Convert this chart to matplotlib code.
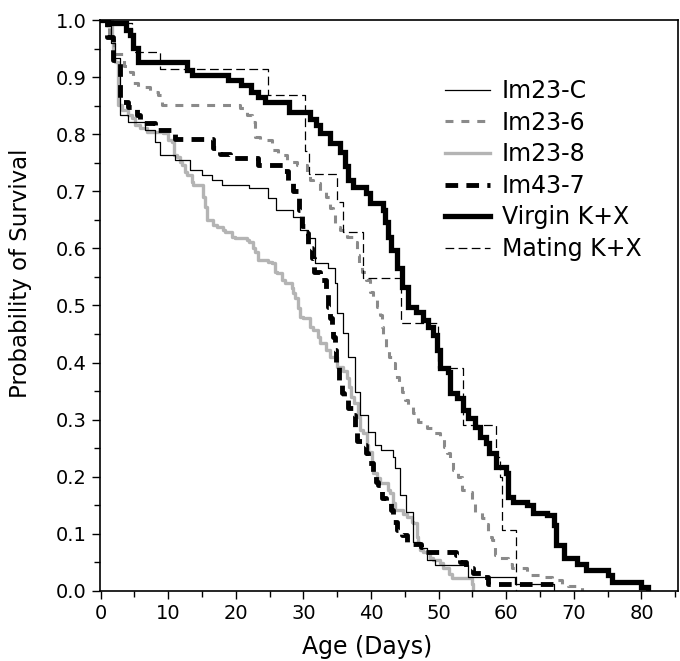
import matplotlib
matplotlib.use('Agg')
from matplotlib import pyplot as plt
from matplotlib.ticker import MultipleLocator, FormatStrFormatter

plt.rcParams['font.family'] = ['DejaVu Sans']

# Kaplan-Meier steps: day of drop, survival after the drop
im23c_t = [0, 0.8, 1.5, 2.1, 2.8, 4.0, 6.6, 8.0, 8.8, 11.0, 13.2, 15.0, 16.4, 18.0, 22.0, 24.7,
           26.0, 28.5, 29.5, 30.7, 31.7, 33.6, 34.6, 34.9, 35.9, 36.6, 37.6, 38.3, 39.5, 40.6,
           41.5, 43.2, 43.5, 44.3, 45.2, 46.2, 47.2, 48.2, 49.4, 54.3, 61.3, 67.0]
im23c_s = [1.0, 0.99, 0.96, 0.933, 0.834, 0.822, 0.807, 0.787, 0.764, 0.755, 0.737, 0.729, 0.72,
           0.711, 0.706, 0.688, 0.667, 0.655, 0.632, 0.618, 0.574, 0.565, 0.539, 0.487, 0.452,
           0.41, 0.349, 0.308, 0.279, 0.256, 0.247, 0.235, 0.215, 0.168, 0.139, 0.086, 0.075,
           0.054, 0.045, 0.025, 0.012, 0.0]

im23_6_t = [0, 1.2, 2.0, 3.5, 4.3, 4.8, 5.5, 7.3, 8.5, 9.1, 20.6, 21.6, 22.4, 22.8, 23.6, 25.3,
            26.2, 27.5, 29.0, 30.5, 31.0, 31.4, 32.4, 33.4, 33.9, 34.4, 34.7, 35.4, 36.5, 37.3,
            37.9, 38.2, 38.6, 39.3, 39.8, 40.3, 40.9, 41.3, 41.6, 41.8, 42.2, 42.6, 43.2, 43.6,
            44.2, 44.6, 45.0, 45.5, 46.2, 47.0, 48.2, 49.2, 50.2, 50.8, 51.2, 51.7, 52.1, 52.8,
            53.4, 54.1, 55.0, 55.3, 56.4, 56.8, 57.3, 57.9, 58.3, 58.8, 60.2, 60.8, 63.0, 63.5,
            65.7, 66.7, 68.2, 69.1, 71.2]
im23_6_s = [1.0, 0.97, 0.94, 0.92, 0.909, 0.89, 0.883, 0.874, 0.868, 0.851, 0.846, 0.834, 0.822,
            0.795, 0.79, 0.772, 0.764, 0.751, 0.746, 0.73, 0.72, 0.715, 0.70, 0.69, 0.67, 0.662,
            0.638, 0.632, 0.62, 0.611, 0.588, 0.571, 0.559, 0.545, 0.524, 0.515, 0.497, 0.483,
            0.462, 0.448, 0.427, 0.41, 0.40, 0.375, 0.364, 0.349, 0.335, 0.322, 0.312, 0.296,
            0.285, 0.276, 0.268, 0.253, 0.241, 0.226, 0.212, 0.2, 0.177, 0.174, 0.159, 0.139,
            0.127, 0.118, 0.095, 0.089, 0.063, 0.057, 0.048, 0.04, 0.034, 0.028, 0.025, 0.019,
            0.011, 0.008, 0.0]

im23_8_t = [0, 1.7, 1.8, 2.1, 2.6, 3.2, 4.0, 4.6, 5.1, 5.8, 6.8, 9.2, 10.0, 10.5, 10.8, 11.3,
            11.7, 12.0, 12.5, 12.7, 13.5, 13.7, 15.1, 15.4, 15.7, 16.6, 17.2, 18.1, 18.4, 19.4,
            19.9, 21.6, 22.0, 22.5, 22.8, 23.3, 24.7, 25.3, 25.8, 26.1, 26.8, 27.2, 28.3, 28.5,
            28.7, 29.2, 29.5, 29.9, 31.0, 31.4, 32.1, 32.5, 33.4, 33.9, 34.9, 35.9, 36.4, 36.8,
            37.1, 37.5, 38.0, 38.3, 38.8, 39.4, 39.5, 40.1, 40.3, 40.9, 41.3, 42.5, 42.8, 43.2,
            43.5, 44.7, 45.3, 46.0, 46.2, 46.8, 47.0, 47.2, 47.7, 48.7, 49.2, 50.2, 50.7, 51.5,
            52.0, 54.9, 55.1]
im23_8_s = [1.0, 0.965, 0.93, 0.926, 0.851, 0.842, 0.834, 0.828, 0.816, 0.811, 0.804, 0.802, 0.79,
            0.786, 0.764, 0.76, 0.751, 0.746, 0.734, 0.729, 0.716, 0.711, 0.69, 0.672, 0.65,
            0.641, 0.638, 0.632, 0.629, 0.62, 0.618, 0.615, 0.611, 0.6, 0.594, 0.58, 0.576,
            0.574, 0.559, 0.557, 0.545, 0.539, 0.531, 0.522, 0.513, 0.495, 0.48, 0.478, 0.462,
            0.457, 0.445, 0.434, 0.422, 0.41, 0.392, 0.385, 0.373, 0.357, 0.34, 0.33, 0.305,
            0.282, 0.276, 0.256, 0.243, 0.226, 0.207, 0.198, 0.189, 0.177, 0.172, 0.154, 0.142,
            0.135, 0.13, 0.121, 0.119, 0.095, 0.084, 0.072, 0.068, 0.058, 0.054, 0.049, 0.04,
            0.03, 0.022, 0.013, 0.0]

im43_7_t = [0, 1.0, 1.8, 2.8, 4.0, 5.3, 5.8, 8.0, 10.5, 11.0, 16.6, 17.6, 19.1, 23.3, 27.0, 27.7,
            28.5, 29.4, 29.8, 30.3, 30.6, 31.3, 31.6, 32.5, 33.4, 33.6, 33.9, 34.2, 34.4, 34.6,
            34.8, 35.3, 35.7, 36.0, 36.6, 37.3, 37.6, 37.9, 38.7, 39.2, 39.5, 40.3, 40.7, 41.0,
            41.6, 42.2, 43.0, 43.3, 43.8, 44.5, 45.3, 47.4, 48.0, 52.5, 53.1, 54.0, 55.1, 56.5,
            57.3, 67.0]
im43_7_s = [1.0, 0.97, 0.93, 0.857, 0.848, 0.834, 0.82, 0.807, 0.8, 0.792, 0.775, 0.765, 0.758,
            0.746, 0.735, 0.715, 0.70, 0.667, 0.64, 0.627, 0.6, 0.583, 0.559, 0.545, 0.522, 0.497,
            0.478, 0.457, 0.445, 0.422, 0.392, 0.37, 0.347, 0.335, 0.32, 0.308, 0.285, 0.262,
            0.256, 0.242, 0.224, 0.203, 0.191, 0.186, 0.163, 0.156, 0.142, 0.121, 0.107, 0.098,
            0.083, 0.077, 0.068, 0.063, 0.051, 0.04, 0.031, 0.025, 0.012, 0.0]

virgin_t = [0, 1.1, 3.8, 4.3, 4.8, 5.5, 12.7, 13.5, 18.8, 20.8, 22.3, 23.3, 24.3, 27.8, 31.0, 31.8,
            32.4, 33.9, 35.4, 36.1, 36.6, 37.3, 39.3, 39.8, 41.8, 42.0, 42.5, 43.0, 43.8, 44.5,
            45.5, 46.7, 47.7, 48.4, 49.2, 49.7, 50.2, 51.4, 51.7, 52.7, 53.6, 54.3, 55.4, 56.1,
            57.0, 57.5, 58.5, 60.0, 60.2, 61.0, 63.0, 64.0, 66.0, 67.0, 67.4, 68.5, 70.5, 71.8,
            75.0, 75.6, 80.0, 81.0]
virgin_s = [1.0, 0.995, 0.982, 0.974, 0.951, 0.927, 0.912, 0.904, 0.895, 0.886, 0.874, 0.866,
            0.857, 0.839, 0.826, 0.816, 0.802, 0.785, 0.769, 0.745, 0.72, 0.708, 0.697, 0.68,
            0.667, 0.646, 0.62, 0.597, 0.566, 0.532, 0.497, 0.489, 0.475, 0.462, 0.448, 0.422,
            0.39, 0.384, 0.347, 0.338, 0.317, 0.303, 0.287, 0.27, 0.259, 0.241, 0.218, 0.206,
            0.165, 0.156, 0.15, 0.136, 0.133, 0.116, 0.08, 0.057, 0.048, 0.037, 0.028, 0.015,
            0.007, 0.0]

mating_t = [0, 1.1, 4.6, 8.8, 24.7, 30.2, 30.8, 34.9, 35.9, 38.8, 44.4, 49.9, 53.6, 58.5, 59.0,
            59.4, 61.4]
mating_s = [1.0, 0.995, 0.944, 0.915, 0.869, 0.77, 0.73, 0.682, 0.629, 0.548, 0.47, 0.39, 0.29,
            0.235, 0.2, 0.107, 0.0]

fig = plt.figure(figsize=(6.8, 6.61), dpi=100)
ax = fig.add_axes([100 / 680, 1 - 591 / 661, 578 / 680, 571 / 661])

l8, = ax.step(im23_8_t, im23_8_s, where='post', color='#b4b4b4', lw=2.4, label='Im23-8')
l6, = ax.step(im23_6_t, im23_6_s, where='post', color='#8a8a8a', lw=2.2,
              dashes=(2.6, 2.6), label='Im23-6')
lc, = ax.step(im23c_t, im23c_s, where='post', color='black', lw=0.9, label='Im23-C')
lm, = ax.step(mating_t, mating_s, where='post', color='black', lw=0.9,
              dashes=(7, 3.5), label='Mating K+X')
l7, = ax.step(im43_7_t, im43_7_s, where='post', color='black', lw=3.5,
              dashes=(2.6, 1.7), label='Im43-7')
lv, = ax.step(virgin_t, virgin_s, where='post', color='black', lw=3.8,
              solid_joinstyle='miter', label='Virgin K+X')

ax.set_xlim(-0.1, 85.4)
ax.set_ylim(0, 1.0)
ax.xaxis.set_major_locator(MultipleLocator(10))
ax.xaxis.set_minor_locator(MultipleLocator(5))
ax.yaxis.set_major_locator(MultipleLocator(0.1))
ax.yaxis.set_minor_locator(MultipleLocator(0.05))
ax.yaxis.set_major_formatter(FormatStrFormatter('%.1f'))
ax.tick_params(which='major', direction='out', length=6, width=1, labelsize=14)
ax.tick_params(which='minor', direction='out', length=4, width=1)
for sp in ax.spines.values():
    sp.set_linewidth(1.2)

ax.set_xlabel('Age (Days)', fontsize=17)
ax.xaxis.set_label_coords(0.462, -0.077)
ax.set_ylabel('Probability of Survival', fontsize=16.5)
ax.yaxis.set_label_coords(-0.118, 0.557)

ax.legend(handles=[lc, l6, l8, l7, lv, lm], loc='upper left', bbox_to_anchor=(0.581, 0.913),
          frameon=False, fontsize=17, handlelength=1.9, handletextpad=0.5,
          labelspacing=0.32, borderaxespad=0)

plt.savefig('out.png', dpi=100)
